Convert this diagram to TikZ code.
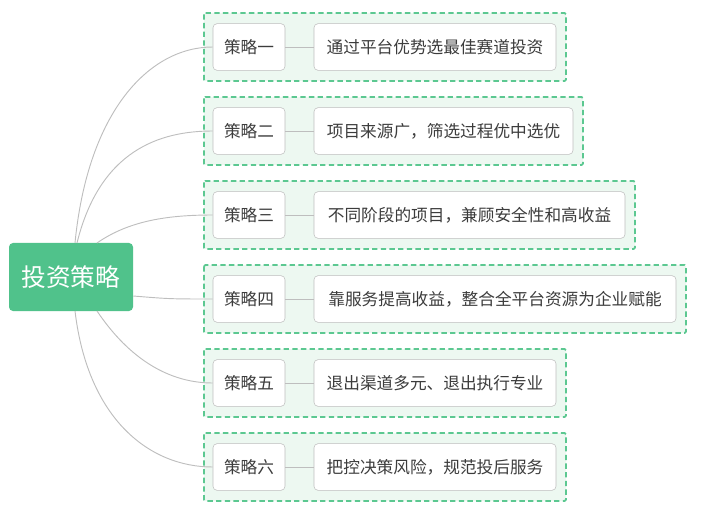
\documentclass[tikz,border=0pt]{standalone}
\usepackage{fontspec}
\setmainfont{Noto Sans CJK SC}
\definecolor{rootgreen}{RGB}{80,194,139}
\definecolor{dashgreen}{RGB}{92,200,145}
\definecolor{panelfill}{RGB}{237,248,241}
\definecolor{boxline}{RGB}{190,190,190}
\definecolor{txtgray}{RGB}{60,60,60}
\tikzset{
  rootbox/.style={draw=none,fill=rootgreen,rounded corners=3pt,text=white,font=\fontsize{18.5}{20}\selectfont,minimum width=93pt,minimum height=51pt},
  stratbox/.style={draw=boxline,fill=white,rounded corners=3pt,text=txtgray,font=\fontsize{12.5}{14}\selectfont,minimum width=54pt,minimum height=35pt},
  descbox/.style={draw=boxline,fill=white,rounded corners=3pt,text=txtgray,font=\fontsize{12.5}{14}\selectfont,minimum height=35pt,inner xsep=0pt},
  panel/.style={draw=dashgreen,fill=panelfill,dashed,dash pattern=on 4pt off 2.5pt,line width=1.3pt,rounded corners=1pt},
  branch/.style={draw=boxline,line width=0.7pt}
}
\begin{document}
\begin{tikzpicture}[x=0.75pt,y=0.75pt,yscale=-1,xscale=1]
\useasboundingbox (0,0) rectangle (703,513);

% panels
\foreach \y/\r in {47/566,131/583,215/635,299/686,383/566,467/566}{
  \draw[panel] (204,\y-34) rectangle (\r,\y+34);
}

% root
\node[rootbox] (root) at (71,277) {投资策略};

% strategies and texts
\foreach \n/\y/\r/\lab/\txt in {
  1/47/556/策略一/通过平台优势选最佳赛道投资,
  2/131/573/策略二/项目来源广，筛选过程优中选优,
  3/215/625/策略三/不同阶段的项目，兼顾安全性和高收益,
  4/299/676/策略四/靠服务提高收益，整合全平台资源为企业赋能,
  5/383/556/策略五/退出渠道多元、退出执行专业,
  6/467/556/策略六/把控决策风险，规范投后服务}{
  \node[stratbox] (s\n) at (249,\y) {\lab};
  \pgfmathsetmacro{\w}{(\r-314)*0.75}
  \node[descbox,minimum width=\w pt] (d\n) at ({(314+\r)/2},\y) {\txt};
  \draw[branch] (s\n.east) -- (d\n.west);
}

% branches
\draw[branch] (75,243) .. controls (88,110) and (150,47) .. (s1.west);
\draw[branch] (77,243) .. controls (100,150) and (160,131) .. (s2.west);
\draw[branch] (97,243) .. controls (130,220) and (170,215) .. (s3.west);
\draw[branch] (root.east|-0,296) .. controls (170,299) .. (s4.west);
\draw[branch] (97,311) .. controls (130,360) and (170,383) .. (s5.west);
\draw[branch] (75,311) .. controls (88,420) and (150,467) .. (s6.west);
\end{tikzpicture}
\end{document}
